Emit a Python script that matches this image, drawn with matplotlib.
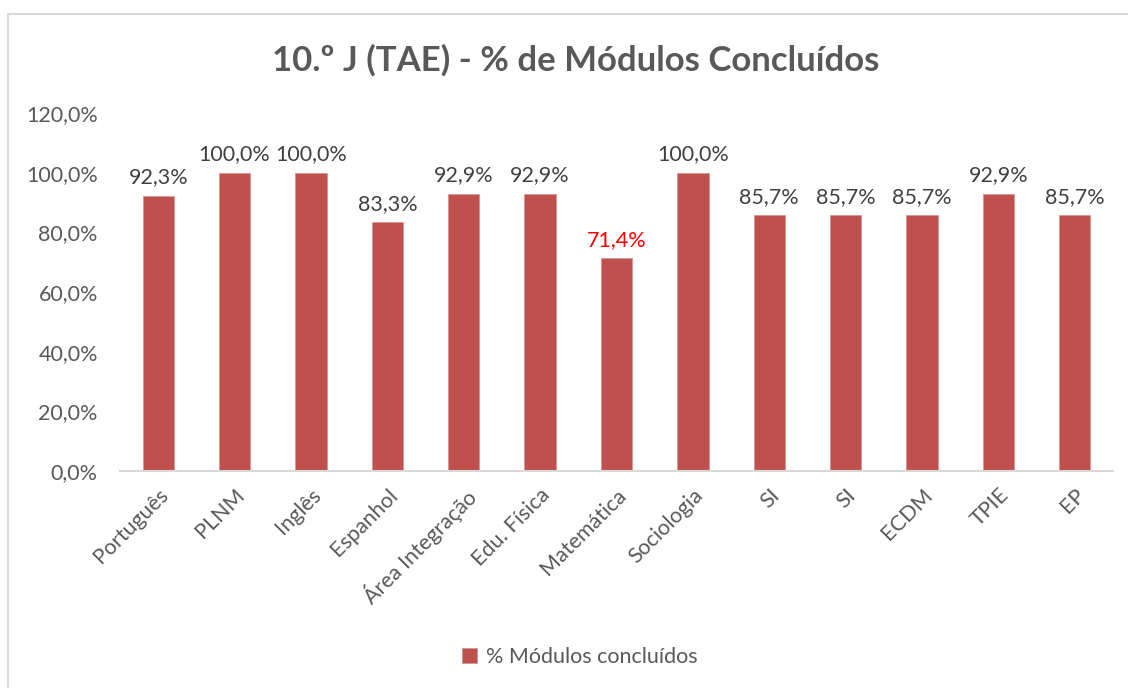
import matplotlib.pyplot as plt
from matplotlib.patches import Rectangle
from matplotlib.ticker import FuncFormatter

# dados do gráfico
disciplinas = ['Português', 'PLNM', 'Inglês', 'Espanhol', 'Área Integração', 'Edu. Física',
               'Matemática', 'Sociologia', 'SI', 'SI', 'ECDM', 'TPIE', 'EP']
concluidos = [92.3, 100.0, 100.0, 83.3, 92.9, 92.9, 71.4, 100.0, 85.7, 85.7, 85.7, 92.9, 85.7]
cor_rotulo = ['#404040'] * 6 + ['#FF0000'] + ['#404040'] * 6

plt.rcParams['font.family'] = ['Lato', 'DejaVu Sans']

fig = plt.figure(figsize=(11.28, 6.88), dpi=100)
W, H = 1128, 688
ax = fig.add_axes([120 / W, (H - 471) / H, (1113 - 120) / W, (471 - 113) / H])

x = range(len(disciplinas))
bars = ax.bar(x, concluidos, width=0.41, color='#C0504D', edgecolor='#D99694', linewidth=0.6,
              label='% Módulos concluídos')

for bar, v, c in zip(bars, concluidos, cor_rotulo):
    ax.annotate(f'{v:.1f}%'.replace('.', ','), (bar.get_x() + bar.get_width() / 2, v),
                xytext=(0, 6), textcoords='offset points', ha='center', va='bottom',
                fontsize=15.5, color=c)

ax.set_xlim(-0.5, len(disciplinas) - 0.5)
ax.set_ylim(0, 120)
ax.set_yticks(range(0, 121, 20))
ax.yaxis.set_major_formatter(FuncFormatter(lambda v, p: f'{v:.1f}%'.replace('.', ',')))
ax.set_xticks(list(x))
ax.set_xticklabels(disciplinas, rotation=45, ha='right', rotation_mode='anchor')

ax.tick_params(axis='both', length=0, labelsize=15.5, labelcolor='#595959')
ax.tick_params(axis='y', pad=16)
ax.tick_params(axis='x', pad=10)
for s in ['top', 'right', 'left']:
    ax.spines[s].set_visible(False)
ax.spines['bottom'].set_color('#D9D9D9')
ax.spines['bottom'].set_linewidth(1.5)

fig.text(576 / W, 1 - 60 / H, '10.º J (TAE) - % de Módulos Concluídos', ha='center', va='center',
         fontsize=25, fontweight='bold', color='#595959')

fig.legend(loc='center', bbox_to_anchor=(580 / W, 1 - 657 / H), frameon=False, fontsize=15.5,
           labelcolor='#595959', handlelength=0.7, handleheight=0.7, handletextpad=0.4)

# moldura do gráfico
fig.patches.append(Rectangle((8 / W, -0.05), 1.2, 1 - 14 / H + 0.05, transform=fig.transFigure,
                             fill=False, edgecolor='#D9D9D9', linewidth=1.5))

fig.savefig('out.png', dpi=100)
